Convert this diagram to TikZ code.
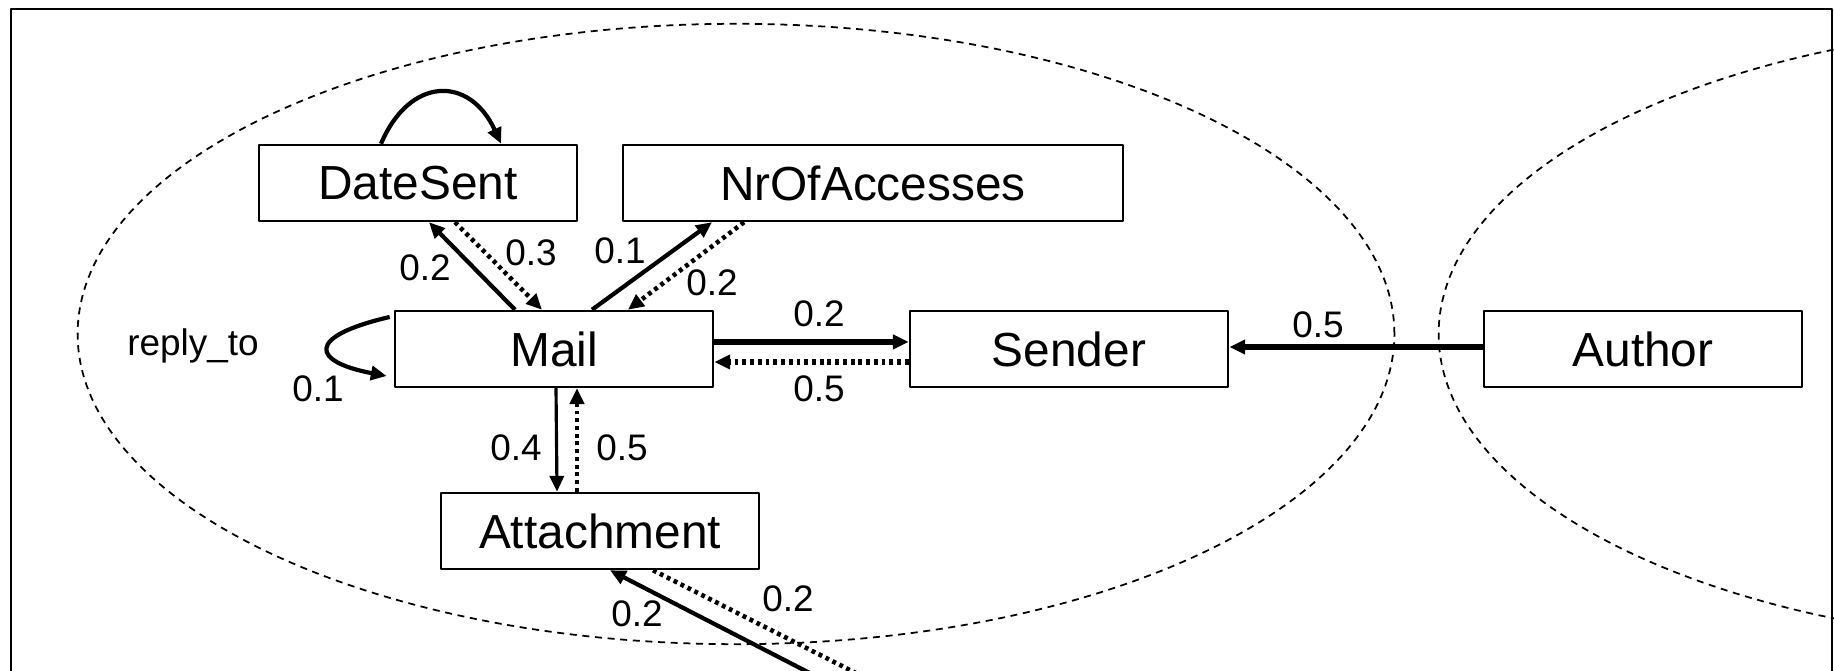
\documentclass[tikz,border=0pt]{standalone}
\usepackage{fontspec}
\setmainfont{Liberation Sans}
\usetikzlibrary{arrows.meta,calc}

\begin{document}
\begin{tikzpicture}[x=0.01cm,y=-0.01cm,>={Triangle[length=4.5pt,width=4pt]},line join=round,
	entity/.style={draw,line width=0.7pt,minimum width=3.18cm,minimum height=0.76cm,inner sep=0pt,font=\fontsize{13.6}{15}\selectfont},
	lbl/.style={inner sep=1pt,font=\fontsize{10.5}{12}\selectfont},
	link/.style={->,line width=1.2pt},
	back/.style={->,line width=1.3pt,dash pattern=on 1.1pt off 1.1pt},
	zone/.style={line width=0.5pt,dash pattern=on 2pt off 1.6pt}]
	\useasboundingbox (0,0) rectangle (1834,671);
	\clip (0,0) rectangle (1834,671);
	\draw[line width=0.8pt] (11,700)|-(1832,9)--(1832,700);
	% the two groups
	\draw[zone] (736,334) ellipse [x radius=6.58cm,y radius=3.1cm];
	\draw[zone] (2097,334) ellipse [x radius=6.58cm,y radius=3.1cm];
	\node[entity] (date) at (418,183) {DateSent};
	\node[entity,minimum width=5cm] (nr) at (873,183) {NrOfAccesses};
	\node[entity] (mail) at (554,349) {Mail};
	\node[entity] (sender) at (1069,349) {Sender};
	\node[entity] (author) at (1643,349) {Author};
	\node[entity] (att) at (600,531) {Attachment};
	\coordinate (below1) at (1000,771);
	\coordinate (below2) at (1053,773);
	% loops
	\draw[link] ($(date.north)+(-37,0)$) .. controls +(29,-68) and +(-31,-68) .. ($(date.north)+(83,0)$);
	\draw[link] ($(mail.west)+(-4,-32)$) .. controls +(-86,20) and +(-74,-14) .. ($(mail.west)+(-7,27)$);
	% links and back links
	\draw[link] ($(mail.north)+(-39,0)$) -- ($(date.south)+(11,0)$);
	\draw[back] ($(date.south)+(37,0)$) -- ($(mail.north)+(-12,0)$);
	\draw[link] ($(mail.north)+(38,0)$) -- ($(nr.south)+(-161,0)$);
	\draw[back] ($(nr.south)+(-129,0)$) -- ($(mail.north)+(74,0)$);
	\draw[link,line width=1.6pt] ($(mail.east)+(0,-7)$) -- ($(sender.west)+(0,-7)$);
	\draw[back,line width=1.6pt] ($(sender.west)+(0,13)$) -- ($(mail.east)+(0,13)$);
	\draw[link,line width=1.6pt] ($(author.west)+(0,-2)$) -- ($(sender.east)+(0,-2)$);
	\draw[link,line width=0.9pt] ($(mail.south)+(2,0)$) -- ($(att.north)+(-43,0)$);
	\draw[back] ($(att.north)+(-23,0)$) -- ($(mail.south)+(23,0)$);
	\draw[link] (below1) -- ($(att.south)+(10,0)$);
	\draw[back] ($(att.south)+(53,0)$) -- (below2);
	\foreach \p/\t [count=\i] in {{425,268}/0.2,{531,253}/0.3,{620,251}/0.1,{712,283}/0.2,{819,314}/0.2,{819,389}/0.5,{1318,325}/0.5,{318,389}/0.1,{516,448}/0.4,{622,448}/0.5,{637,614}/0.2,{788,599}/0.2}
		\node[lbl] (w\i) at (\p) {\t};
	\node[lbl] (reply) at (193,346) {reply\_to};
\end{tikzpicture}
\end{document}
